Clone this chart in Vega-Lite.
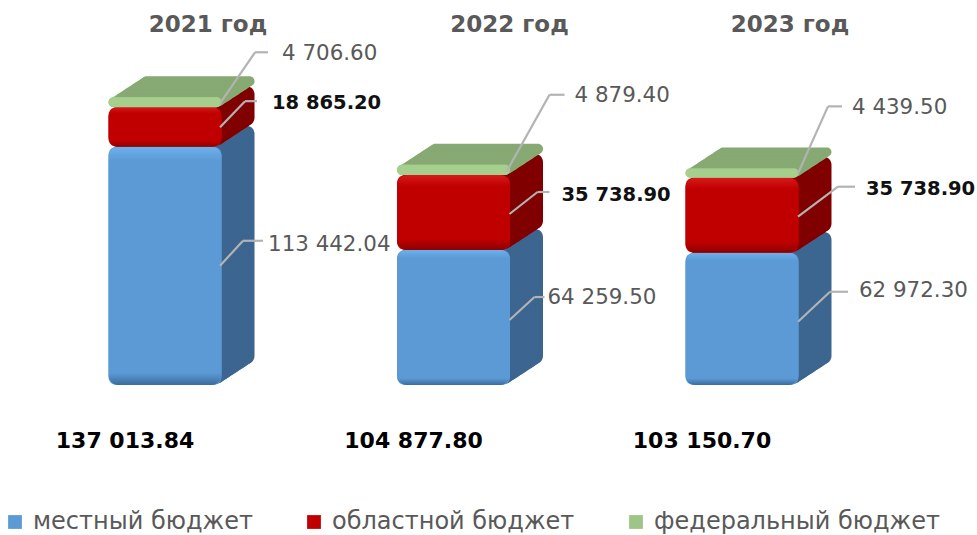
{
"$schema":"https://vega.github.io/schema/vega-lite/v6.json",
"width":977,"height":535,"padding":0,"autosize":{"type":"none"},
"background":"white",
"config":{"view":{"stroke":null},"text":{"font":"DejaVu Sans","fontSize":21.4,"align":"left","baseline":"middle"}},
"datasets":{
"rows":[
{"year":2021,"budget":"местный бюджет","order":1,"value":113442.04,"label":"113 442.04"},
{"year":2021,"budget":"областной бюджет","order":2,"value":18865.20,"label":"18 865.20"},
{"year":2021,"budget":"федеральный бюджет","order":3,"value":4706.60,"label":"4 706.60"},
{"year":2022,"budget":"местный бюджет","order":1,"value":64259.50,"label":"64 259.50"},
{"year":2022,"budget":"областной бюджет","order":2,"value":35738.90,"label":"35 738.90"},
{"year":2022,"budget":"федеральный бюджет","order":3,"value":4879.40,"label":"4 879.40"},
{"year":2023,"budget":"местный бюджет","order":1,"value":62972.30,"label":"62 972.30"},
{"year":2023,"budget":"областной бюджет","order":2,"value":35738.90,"label":"35 738.90"},
{"year":2023,"budget":"федеральный бюджет","order":3,"value":4439.50,"label":"4 439.50"}
],
"totals":[
{"year":2021,"title":"2021 год","total":"137 013.84"},
{"year":2022,"title":"2022 год","total":"104 877.80"},
{"year":2023,"title":"2023 год","total":"103 150.70"}
]},
"encoding":{"x":{"field":"year","type":"quantitative","axis":null,"scale":{"domain":[2020.428,2023.8146],"nice":false,"zero":false,"padding":0}}},
"layer":[
{"data":{"name":"rows"},
"transform":[{"stack":"value","groupby":["year"],"sort":[{"field":"order","order":"ascending"}],"as":["y0","y1"]}],
"encoding":{"y":{"field":"y1","type":"quantitative","axis":null,"scale":{"domain":[-71429,183333],"nice":false,"zero":false}}},
"layer":[
{"encoding":{"y2":{"field":"y0"},
"color":{"condition":[{"test":"datum.order==1","value":"#3c6690"},{"test":"datum.order==2","value":"#800000"}],"value":"#87a973"}},
"layer":[
{"mark":{"type":"bar","orient":"vertical","size":113,"cornerRadius":8,"xOffset":33,"yOffset":-21,"y2Offset":-21}},
{"mark":{"type":"bar","orient":"vertical","size":113,"cornerRadius":8,"xOffset":31,"yOffset":-19.69,"y2Offset":-19.69}},
{"mark":{"type":"bar","orient":"vertical","size":113,"cornerRadius":8,"xOffset":29,"yOffset":-18.38,"y2Offset":-18.38}},
{"mark":{"type":"bar","orient":"vertical","size":113,"cornerRadius":8,"xOffset":27,"yOffset":-17.06,"y2Offset":-17.06}},
{"mark":{"type":"bar","orient":"vertical","size":113,"cornerRadius":8,"xOffset":25,"yOffset":-15.75,"y2Offset":-15.75}},
{"mark":{"type":"bar","orient":"vertical","size":113,"cornerRadius":8,"xOffset":23,"yOffset":-14.44,"y2Offset":-14.44}},
{"mark":{"type":"bar","orient":"vertical","size":113,"cornerRadius":8,"xOffset":21,"yOffset":-13.13,"y2Offset":-13.13}},
{"mark":{"type":"bar","orient":"vertical","size":113,"cornerRadius":8,"xOffset":19,"yOffset":-11.81,"y2Offset":-11.81}},
{"mark":{"type":"bar","orient":"vertical","size":113,"cornerRadius":8,"xOffset":17,"yOffset":-10.5,"y2Offset":-10.5}},
{"mark":{"type":"bar","orient":"vertical","size":113,"cornerRadius":8,"xOffset":15,"yOffset":-9.19,"y2Offset":-9.19}},
{"mark":{"type":"bar","orient":"vertical","size":113,"cornerRadius":8,"xOffset":13,"yOffset":-7.88,"y2Offset":-7.88}},
{"mark":{"type":"bar","orient":"vertical","size":113,"cornerRadius":8,"xOffset":11,"yOffset":-6.56,"y2Offset":-6.56}},
{"mark":{"type":"bar","orient":"vertical","size":113,"cornerRadius":8,"xOffset":9,"yOffset":-5.25,"y2Offset":-5.25}},
{"mark":{"type":"bar","orient":"vertical","size":113,"cornerRadius":8,"xOffset":7,"yOffset":-3.94,"y2Offset":-3.94}},
{"mark":{"type":"bar","orient":"vertical","size":113,"cornerRadius":8,"xOffset":5,"yOffset":-2.63,"y2Offset":-2.63}},
{"mark":{"type":"bar","orient":"vertical","size":113,"cornerRadius":8,"xOffset":3,"yOffset":-1.31,"y2Offset":-1.31}}
]},
{"mark":{"type":"bar","orient":"vertical","size":113,"cornerRadius":8},
"encoding":{"y2":{"field":"y0"},"color":{"field":"budget","type":"nominal","sort":["местный бюджет","областной бюджет","федеральный бюджет"],
"scale":{"domain":["местный бюджет","областной бюджет","федеральный бюджет"],"range":["#5b9ad5","#c00000","#9dc585"]},
"legend":{"title":null,"orient":"none","legendX":3,"legendY":510,"direction":"horizontal","symbolType":"square","symbolSize":190,"symbolStrokeWidth":0,"labelFont":"DejaVu Sans","labelFontSize":24,"labelColor":"#595959","labelLimit":400,"columnPadding":49,"symbolOffset":0,"labelOffset":6}}}},
{"transform":[{"filter":"datum.order==1"}],"mark":{"type":"bar","orient":"vertical","size":113,"cornerRadius":10,
"color":{"gradient":"linear","x1":0,"y1":0,"x2":0,"y2":1,"stops":[{"offset":0,"color":"#6db1ec"},{"offset":0.06,"color":"#5b9ad5"},{"offset":0.95,"color":"#5b9ad5"},{"offset":1,"color":"#3a6c9c"}]}},"encoding":{"y2":{"field":"y0"}}},
{"transform":[{"filter":"datum.order==2"}],"mark":{"type":"bar","orient":"vertical","size":113,"cornerRadius":10,
"color":{"gradient":"linear","x1":0,"y1":0,"x2":0,"y2":1,"stops":[{"offset":0,"color":"#d81a1a"},{"offset":0.15,"color":"#c00000"},{"offset":0.85,"color":"#c00000"},{"offset":1,"color":"#8e0000"}]}},"encoding":{"y2":{"field":"y0"}}},
{"transform":[{"filter":"datum.order==3"}],"mark":{"type":"bar","orient":"vertical","size":113,"cornerRadius":5,"color":"#a6cf8d"},"encoding":{"y2":{"field":"y0"}}},

{"encoding":{"y2":{"field":"y1"},"x2":{"field":"year"}},"layer":[
{"transform":[{"filter":"datum.year==2021&&datum.order==1"}],"layer":[
{"mark":{"type":"rule","color":"#b3b3b3","strokeWidth":2.2,"xOffset":55,"yOffset":119,"x2Offset":78,"y2Offset":94}},
{"mark":{"type":"rule","color":"#b3b3b3","strokeWidth":2.2,"xOffset":78,"yOffset":94,"x2Offset":98,"y2Offset":94}}]},
{"transform":[{"filter":"datum.year==2021&&datum.order==2"}],"layer":[
{"mark":{"type":"rule","color":"#b3b3b3","strokeWidth":2.2,"xOffset":55,"yOffset":20,"x2Offset":80,"y2Offset":-6}},
{"mark":{"type":"rule","color":"#b3b3b3","strokeWidth":2.2,"xOffset":80,"yOffset":-6,"x2Offset":92,"y2Offset":-6}}]},
{"transform":[{"filter":"datum.year==2021&&datum.order==3"}],"layer":[
{"mark":{"type":"rule","color":"#b3b3b3","strokeWidth":2.2,"xOffset":55,"yOffset":6,"x2Offset":90,"y2Offset":-45}},
{"mark":{"type":"rule","color":"#b3b3b3","strokeWidth":2.2,"xOffset":90,"yOffset":-45,"x2Offset":103,"y2Offset":-45}}]},
{"transform":[{"filter":"datum.year==2022&&datum.order==1"}],"layer":[
{"mark":{"type":"rule","color":"#b3b3b3","strokeWidth":2.2,"xOffset":56,"yOffset":70,"x2Offset":81,"y2Offset":47}},
{"mark":{"type":"rule","color":"#b3b3b3","strokeWidth":2.2,"xOffset":81,"yOffset":47,"x2Offset":91,"y2Offset":47}}]},
{"transform":[{"filter":"datum.year==2022&&datum.order==2"}],"layer":[
{"mark":{"type":"rule","color":"#b3b3b3","strokeWidth":2.2,"xOffset":56,"yOffset":39,"x2Offset":84,"y2Offset":17}},
{"mark":{"type":"rule","color":"#b3b3b3","strokeWidth":2.2,"xOffset":84,"yOffset":17,"x2Offset":96,"y2Offset":17}}]},
{"transform":[{"filter":"datum.year==2022&&datum.order==3"}],"layer":[
{"mark":{"type":"rule","color":"#b3b3b3","strokeWidth":2.2,"xOffset":53,"yOffset":7,"x2Offset":96,"y2Offset":-70}},
{"mark":{"type":"rule","color":"#b3b3b3","strokeWidth":2.2,"xOffset":96,"yOffset":-70,"x2Offset":111,"y2Offset":-70}}]},
{"transform":[{"filter":"datum.year==2023&&datum.order==1"}],"layer":[
{"mark":{"type":"rule","color":"#b3b3b3","strokeWidth":2.2,"xOffset":56,"yOffset":69,"x2Offset":88,"y2Offset":39}},
{"mark":{"type":"rule","color":"#b3b3b3","strokeWidth":2.2,"xOffset":88,"yOffset":39,"x2Offset":106,"y2Offset":39}}]},
{"transform":[{"filter":"datum.year==2023&&datum.order==2"}],"layer":[
{"mark":{"type":"rule","color":"#b3b3b3","strokeWidth":2.2,"xOffset":56,"yOffset":39,"x2Offset":96,"y2Offset":9}},
{"mark":{"type":"rule","color":"#b3b3b3","strokeWidth":2.2,"xOffset":96,"yOffset":9,"x2Offset":113,"y2Offset":9}}]},
{"transform":[{"filter":"datum.year==2023&&datum.order==3"}],"layer":[
{"mark":{"type":"rule","color":"#b3b3b3","strokeWidth":2.2,"xOffset":56,"yOffset":5,"x2Offset":86,"y2Offset":-62}},
{"mark":{"type":"rule","color":"#b3b3b3","strokeWidth":2.2,"xOffset":86,"yOffset":-62,"x2Offset":100,"y2Offset":-62}}]}
]},
{"encoding":{"text":{"field":"label"}},"layer":[
{"transform":[{"filter":"datum.year==2021&&datum.order==1"}],"mark":{"type":"text","color":"#595959","dx":103,"dy":98}},
{"transform":[{"filter":"datum.year==2021&&datum.order==2"}],"mark":{"type":"text","color":"#111111","fontWeight":"bold","fontSize":19.5,"dx":107,"dy":-4}},
{"transform":[{"filter":"datum.year==2021&&datum.order==3"}],"mark":{"type":"text","color":"#595959","dx":117,"dy":-43}},
{"transform":[{"filter":"datum.year==2022&&datum.order==1"}],"mark":{"type":"text","color":"#595959","dx":94,"dy":48}},
{"transform":[{"filter":"datum.year==2022&&datum.order==2"}],"mark":{"type":"text","color":"#111111","fontWeight":"bold","fontSize":19.5,"dx":108,"dy":20}},
{"transform":[{"filter":"datum.year==2022&&datum.order==3"}],"mark":{"type":"text","color":"#595959","dx":121,"dy":-69}},
{"transform":[{"filter":"datum.year==2023&&datum.order==1"}],"mark":{"type":"text","color":"#595959","dx":117,"dy":38}},
{"transform":[{"filter":"datum.year==2023&&datum.order==2"}],"mark":{"type":"text","color":"#111111","fontWeight":"bold","fontSize":19.5,"dx":124,"dy":11}},
{"transform":[{"filter":"datum.year==2023&&datum.order==3"}],"mark":{"type":"text","color":"#595959","dx":110,"dy":-60}}
]}
]},
{"data":{"name":"totals"},"layer":[
{"mark":{"type":"text","color":"#000000","fontWeight":"bold","fontSize":22,"align":"center","dx":-40},
"encoding":{"y":{"datum":-26667,"type":"quantitative","axis":null,"scale":{"domain":[-71429,183333],"nice":false,"zero":false}},"text":{"field":"total"}}},
{"transform":[{"filter":"datum.year==2021"}],"mark":{"type":"text","color":"#595959","fontWeight":"bold","fontSize":23,"align":"center","dx":43},
"encoding":{"y":{"datum":171428,"type":"quantitative","axis":null,"scale":{"domain":[-71429,183333],"nice":false,"zero":false}},"text":{"field":"title"}}},
{"transform":[{"filter":"datum.year==2022"}],"mark":{"type":"text","color":"#595959","fontWeight":"bold","fontSize":23,"align":"center","dx":56},
"encoding":{"y":{"datum":171428,"type":"quantitative","axis":null,"scale":{"domain":[-71429,183333],"nice":false,"zero":false}},"text":{"field":"title"}}},
{"transform":[{"filter":"datum.year==2023"}],"mark":{"type":"text","color":"#595959","fontWeight":"bold","fontSize":23,"align":"center","dx":48},
"encoding":{"y":{"datum":171428,"type":"quantitative","axis":null,"scale":{"domain":[-71429,183333],"nice":false,"zero":false}},"text":{"field":"title"}}}
]}
]
}
